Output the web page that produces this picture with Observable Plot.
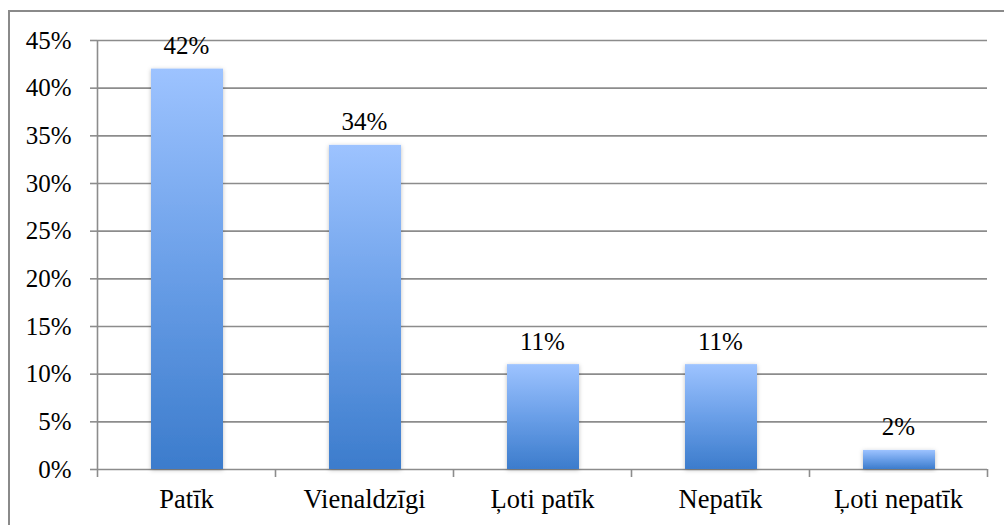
<!DOCTYPE html>
<html>
<head>
<meta charset="utf-8">
<script src="https://cdn.jsdelivr.net/npm/d3@7"></script>
<script src="https://cdn.jsdelivr.net/npm/@observablehq/plot@0.6"></script>
<style>
  html, body { margin: 0; padding: 0; background: #fff; overflow: hidden; }
  #wrap { position: relative; width: 1004px; height: 525px; }
  #frame { position: absolute; left: 8px; top: 10px; width: 1010px; height: 530px;
           border-left: 2px solid #8a8a8a; border-top: 2px solid #8a8a8a; box-sizing: border-box; }
  #chart { position: absolute; left: 0; top: 0; }
  #chart svg text { font-family: 'Liberation Serif', 'Times New Roman', serif; fill: #000; }
</style>
</head>
<body>
<div id="wrap"><div id="frame"></div><div id="chart"></div></div>
<script>
const categories = ["Patīk", "Vienaldzīgi", "Ļoti patīk", "Nepatīk", "Ļoti nepatīk"];
const values = [0.42, 0.34, 0.11, 0.11, 0.02];
const yTicks = [0, 0.05, 0.10, 0.15, 0.20, 0.25, 0.30, 0.35, 0.40, 0.45];

const data = categories.map((c, i) => ({cat: c, i, v: values[i]}));
const bounds = d3.range(categories.length + 1);
const centers = categories.map((c, i) => i + 0.5);

const font = "'Liberation Serif', 'Times New Roman', serif";
const grid = "#8c8c8c";

const plot = Plot.plot({
  width: 1004,
  height: 525,
  marginLeft: 97,
  marginRight: 17,
  marginTop: 40,
  marginBottom: 56,
  style: {fontFamily: font, fontSize: "25px", color: "#000", background: "transparent"},
  x: {type: "linear", domain: [0, categories.length]},
  y: {domain: [0, 0.45]},
  marks: [
    Plot.ruleY(yTicks, {stroke: grid, strokeWidth: 1.6}),
    Plot.ruleX([0], {stroke: grid, strokeWidth: 1.6}),
    Plot.axisY({ticks: yTicks, tickSize: 7, tickPadding: 19, stroke: grid, strokeWidth: 1.6,
                tickFormat: d => Math.round(d * 100) + "%", fontSize: 25, label: null}),
    Plot.axisX({ticks: bounds, tickSize: 8, tickFormat: () => "", stroke: grid, strokeWidth: 1.6, label: null}),
    Plot.axisX({ticks: centers, tickSize: 0, tickPadding: 20, tickFormat: d => categories[Math.floor(d)],
                fontSize: 26.5, label: null}),
    Plot.rectY(data, {x1: d => d.i, x2: d => d.i + 1, y1: 0, y2: "v", insetLeft: 54, insetRight: 52,
                      fill: "url(#barGrad)"}),
    Plot.text(data, {x: d => d.i + 0.5, y: "v", text: d => Math.round(d.v * 100) + "%",
                     dy: -23, lineAnchor: "middle", fontSize: 25, fill: "#000"})
  ]
});

const svg = d3.select(plot);
const defs = svg.insert("defs", ":first-child");
const g = defs.append("linearGradient").attr("id", "barGrad")
  .attr("x1", 0).attr("y1", 0).attr("x2", 0).attr("y2", 1);
g.append("stop").attr("offset", "0%").attr("stop-color", "#9dc3ff");
g.append("stop").attr("offset", "50%").attr("stop-color", "#6a9fe8");
g.append("stop").attr("offset", "100%").attr("stop-color", "#3c7ccc");
const f = defs.append("filter").attr("id", "shadow").attr("x", "-20%").attr("y", "-20%")
  .attr("width", "140%").attr("height", "140%");
f.append("feDropShadow").attr("dx", 0).attr("dy", 1).attr("stdDeviation", 2)
  .attr("flood-color", "#000").attr("flood-opacity", 0.25);
svg.selectAll("rect").filter(function() { return this.getAttribute("fill") === "url(#barGrad)" || this.parentNode.getAttribute("fill") === "url(#barGrad)"; })
  .attr("filter", "url(#shadow)");

document.getElementById("chart").appendChild(plot);
</script>
</body>
</html>
